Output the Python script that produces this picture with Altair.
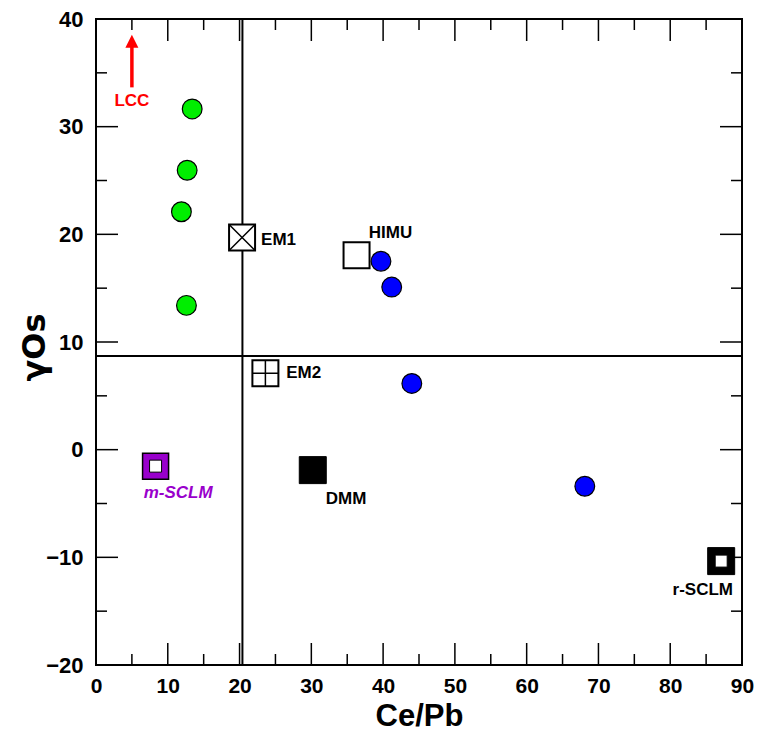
import altair as alt
import pandas as pd

# ---- data ----
green_x = [13.4, 12.7, 11.9, 12.6]
green_y = [31.65, 25.95, 22.1, 13.4]
blue_x = [39.7, 41.2, 44.0, 68.1]
blue_y = [17.5, 15.1, 6.15, -3.4]

em_names = ["EM1", "EM2", "HIMU", "DMM", "m-SCLM", "r-SCLM"]
em_x = [20.35, 23.6, 36.3, 30.2, 8.3, 87.1]
em_y = [19.7, 7.1, 18.06, -1.9, -1.53, -10.35]

lbl_text = ["EM1", "HIMU", "EM2", "DMM"]
lbl_x = [23.0, 38.0, 26.5, 32.0]
lbl_y = [19.5, 20.1, 7.1, -4.6]

msclm_lbl = {"t": "m-SCLM", "x": 11.45, "y": -4.0}
rsclm_lbl = {"t": "r-SCLM", "x": 88.75, "y": -13.0}
lcc_lbl = {"t": "LCC", "x": 5.0, "y": 32.35}
arrow = {"x": 5.0, "y": 33.65, "y2": 37.4, "head": 37.93}

vline_x = 20.4
hline_y = 8.7

x_major = list(range(0, 91, 10))
x_minor = list(range(5, 90, 10))
y_major = list(range(-20, 41, 10))
y_minor = list(range(-15, 40, 10))

W = H = 646
FONT = "Liberation Sans"
MAJ, MIN = 22, 11

xscale = alt.Scale(domain=[0, 90], nice=False, zero=False)
yscale = alt.Scale(domain=[-20, 40], nice=False, zero=False)
xaxis = alt.Axis(values=x_major, ticks=False, domain=False, grid=False,
                 labelFont=FONT, labelFontSize=21, labelFontWeight="bold", labelColor="black",
                 labelPadding=10, labelFlush=False, labelOverlap=False,
                 title="Ce/Pb", titleFont=FONT, titleFontSize=31, titleFontWeight="bold",
                 titleColor="black", titleX=W / 2, titleY=51, titleBaseline="middle", titleAlign="center")
yaxis = alt.Axis(values=y_major, ticks=False, domain=False, grid=False,
                 labelFont=FONT, labelFontSize=22, labelFontWeight="bold", labelColor="black",
                 labelPadding=13, labelFlush=False, labelOverlap=False,
                 title="γOs", titleFont="DejaVu Sans", titleFontSize=32, titleFontWeight="bold",
                 titleColor="black", titleX=-62, titleY=H / 2 + 5, titleBaseline="middle",
                 titleAlign="center", titleAngle=-90)


def X(f="x"):
    return alt.X(f, type="quantitative", scale=xscale, axis=xaxis)


def Y(f="y"):
    return alt.Y(f, type="quantitative", scale=yscale, axis=yaxis)


layers = []

# tick marks (inward, on all four sides)
def xticks(vals, ln):
    d = pd.DataFrame({"x": vals})
    b = alt.Chart(d).mark_rule(color="black", strokeWidth=1.5)
    return [b.encode(x=X(), y=alt.value(H), y2=alt.value(H - ln)),
            b.encode(x=X(), y=alt.value(0), y2=alt.value(ln))]


def yticks(vals, ln):
    d = pd.DataFrame({"y": vals})
    b = alt.Chart(d).mark_rule(color="black", strokeWidth=1.5)
    return [b.encode(y=Y(), x=alt.value(0), x2=alt.value(ln)),
            b.encode(y=Y(), x=alt.value(W), x2=alt.value(W - ln))]


layers += xticks(x_major, MAJ) + xticks(x_minor, MIN) + yticks(y_major, MAJ) + yticks(y_minor, MIN)

# reference lines
layers.append(alt.Chart(pd.DataFrame({"x": [vline_x]})).mark_rule(color="black", strokeWidth=2)
              .encode(x=X()))
layers.append(alt.Chart(pd.DataFrame({"y": [hline_y]})).mark_rule(color="black", strokeWidth=2)
              .encode(y=Y()))

em = pd.DataFrame({"name": em_names, "x": em_x, "y": em_y})
SQ = 26 * 26


def em_pt(names, **kw):
    d = em[em["name"].isin(names)]
    return alt.Chart(d).mark_point(**kw).encode(x=X(), y=Y())

# end-member squares
layers.append(em_pt(["EM1", "EM2", "HIMU"], shape="square", size=SQ, filled=True,
                    fill="white", stroke="black", strokeWidth=2, opacity=1))
layers.append(em_pt(["EM1"], shape="M-1,-1L1,1M-1,1L1,-1", size=SQ, filled=False,
                    stroke="black", strokeWidth=1.5, opacity=1))
layers.append(em_pt(["EM2"], shape="M0,-1L0,1M-1,0L1,0", size=SQ, filled=False,
                    stroke="black", strokeWidth=1.5, opacity=1))
layers.append(em_pt(["DMM"], shape="square", size=27 * 27, filled=True,
                    fill="black", stroke="black", strokeWidth=1, opacity=1))
layers.append(em_pt(["m-SCLM"], shape="square", size=26 * 26, filled=True,
                    fill="#9900CC", stroke="black", strokeWidth=1.5, opacity=1))
layers.append(em_pt(["r-SCLM"], shape="square", size=27 * 27, filled=True,
                    fill="black", stroke="black", strokeWidth=1, opacity=1))
layers.append(em_pt(["m-SCLM", "r-SCLM"], shape="square", size=12 * 12, filled=True,
                    fill="white", stroke="black", strokeWidth=1, opacity=1))

# samples
layers.append(alt.Chart(pd.DataFrame({"x": green_x, "y": green_y}))
              .mark_circle(size=390, color="#00EE00", stroke="black", strokeWidth=1.2, opacity=1)
              .encode(x=X(), y=Y()))
layers.append(alt.Chart(pd.DataFrame({"x": blue_x, "y": blue_y}))
              .mark_circle(size=390, color="#0000FF", stroke="black", strokeWidth=1.2, opacity=1)
              .encode(x=X(), y=Y()))

# labels
layers.append(alt.Chart(pd.DataFrame({"t": lbl_text, "x": lbl_x, "y": lbl_y}))
              .mark_text(align="left", baseline="middle", font=FONT, fontSize=17,
                         fontWeight="bold", color="black")
              .encode(x=X(), y=Y(), text="t:N"))
layers.append(alt.Chart(pd.DataFrame([msclm_lbl]))
              .mark_text(align="center", baseline="middle", font=FONT, fontSize=17,
                         fontWeight="bold", fontStyle="italic", color="#9900CC")
              .encode(x=X(), y=Y(), text="t:N"))
layers.append(alt.Chart(pd.DataFrame([rsclm_lbl]))
              .mark_text(align="right", baseline="middle", font=FONT, fontSize=17,
                         fontWeight="bold", color="black")
              .encode(x=X(), y=Y(), text="t:N"))
layers.append(alt.Chart(pd.DataFrame([lcc_lbl]))
              .mark_text(align="center", baseline="middle", font=FONT, fontSize=17,
                         fontWeight="bold", color="#FF0000")
              .encode(x=X(), y=Y(), text="t:N"))

# LCC arrow
ad = pd.DataFrame([arrow])
layers.append(alt.Chart(ad).mark_rule(color="#FF0000", strokeWidth=3.5)
              .encode(x=X(), y=Y(), y2="y2:Q"))
layers.append(alt.Chart(ad).mark_point(shape="M0,-1L1,1L-1,1Z", size=13 * 13, filled=True,
                                       color="#FF0000", opacity=1)
              .encode(x=X(), y=Y("head")))

chart = alt.layer(*layers).properties(
    width=W, height=H,
    padding={"left": 88, "top": 11, "right": 13, "bottom": 67},
    autosize=alt.AutoSizeParams(type="none"),
    background="white",
).configure_view(stroke="black", strokeWidth=2)

chart.save("out.html", embed_options={"renderer": "svg", "actions": False})
